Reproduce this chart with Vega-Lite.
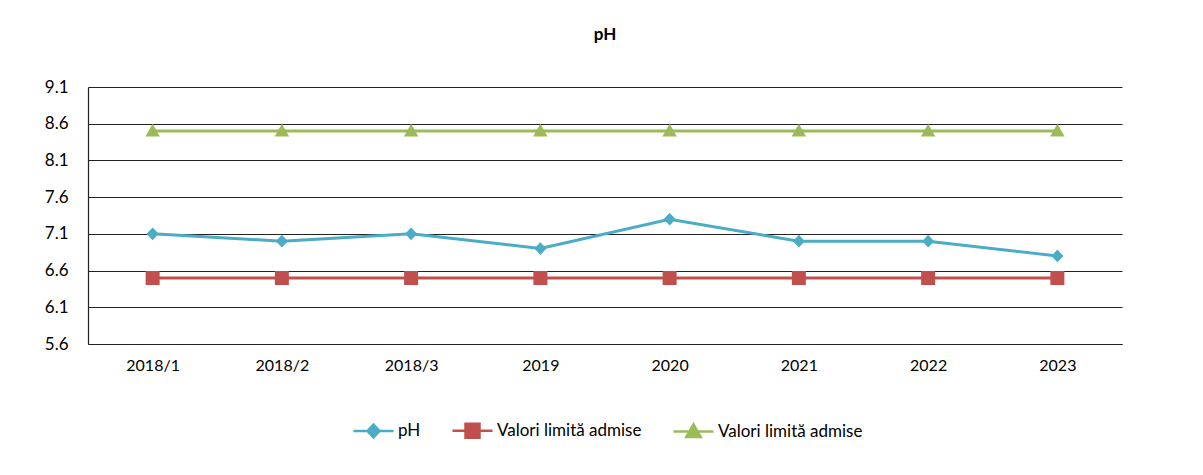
{
  "$schema": "https://vega.github.io/schema/vega-lite/v6.json",
  "autosize": "none",
  "width": 1034,
  "height": 257,
  "padding": {"left": 88, "top": 87, "right": 81, "bottom": 131},
  "background": "white",
  "title": {"text": "pH", "font": "Lato", "fontSize": 17, "fontWeight": "bold", "color": "#000000", "anchor": "middle", "offset": 34},
  "data": {"values": [
    {"x": "2018/1", "s": "pH", "v": 7.1},
    {"x": "2018/2", "s": "pH", "v": 7.0},
    {"x": "2018/3", "s": "pH", "v": 7.1},
    {"x": "2019", "s": "pH", "v": 6.9},
    {"x": "2020", "s": "pH", "v": 7.3},
    {"x": "2021", "s": "pH", "v": 7.0},
    {"x": "2022", "s": "pH", "v": 7.0},
    {"x": "2023", "s": "pH", "v": 6.8},
    {"x": "2018/1", "s": "Valori limită admise#1", "v": 6.5},
    {"x": "2018/2", "s": "Valori limită admise#1", "v": 6.5},
    {"x": "2018/3", "s": "Valori limită admise#1", "v": 6.5},
    {"x": "2019", "s": "Valori limită admise#1", "v": 6.5},
    {"x": "2020", "s": "Valori limită admise#1", "v": 6.5},
    {"x": "2021", "s": "Valori limită admise#1", "v": 6.5},
    {"x": "2022", "s": "Valori limită admise#1", "v": 6.5},
    {"x": "2023", "s": "Valori limită admise#1", "v": 6.5},
    {"x": "2018/1", "s": "Valori limită admise#2", "v": 8.5},
    {"x": "2018/2", "s": "Valori limită admise#2", "v": 8.5},
    {"x": "2018/3", "s": "Valori limită admise#2", "v": 8.5},
    {"x": "2019", "s": "Valori limită admise#2", "v": 8.5},
    {"x": "2020", "s": "Valori limită admise#2", "v": 8.5},
    {"x": "2021", "s": "Valori limită admise#2", "v": 8.5},
    {"x": "2022", "s": "Valori limită admise#2", "v": 8.5},
    {"x": "2023", "s": "Valori limită admise#2", "v": 8.5}
  ]},
  "encoding": {
    "x": {
      "field": "x", "type": "ordinal", "sort": null,
      "scale": {"type": "point", "padding": 0.5},
      "axis": {"title": null, "labelAngle": 0, "ticks": false, "grid": false, "domainColor": "#222222", "domainWidth": 1.2, "labelFont": "Lato", "labelFontSize": 16, "labelColor": "#000000", "labelPadding": 13}
    },
    "y": {
      "field": "v", "type": "quantitative",
      "scale": {"domain": [5.6, 9.1], "nice": false, "zero": false},
      "axis": {"title": null, "values": [5.6, 6.1, 6.6, 7.1, 7.6, 8.1, 8.6, 9.1], "format": ".1f", "ticks": false, "grid": true, "gridColor": "#222222", "gridWidth": 1.2, "domainColor": "#222222", "domainWidth": 1.2, "labelFont": "Lato", "labelFontSize": 17, "labelColor": "#000000", "labelPadding": 20}
    },
    "color": {
      "field": "s", "type": "nominal", "sort": null,
      "scale": {"domain": ["pH", "Valori limită admise#1", "Valori limită admise#2"], "range": ["#4BACC6", "#C0504D", "#9BBB59"]},
      "legend": {"labelExpr": "replace(datum.label, /#\\d$/, '')"}
    }
  },
  "layer": [
    {
      "mark": {"type": "line", "strokeWidth": 3}
    },
    {
      "mark": {"type": "point", "filled": true, "opacity": 1, "size": 1600, "strokeWidth": 0},
      "encoding": {
        "shape": {
          "field": "s", "type": "nominal", "sort": null,
          "scale": {"domain": ["pH", "Valori limită admise#1", "Valori limită admise#2"], "range": [
            "M-1,0H1M0,-0.32L0.3,0L0,0.32L-0.3,0Z",
            "M-1,0H1M-0.35,-0.35H0.35V0.35H-0.35Z",
            "M-1,0H1M0,-0.36L0.36,0.27H-0.36Z"
          ]},
          "legend": {"labelExpr": "replace(datum.label, /#\\d$/, '')"}
        }
      }
    }
  ],
  "config": {
    "view": {"stroke": null},
    "legend": {
      "orient": "none",
      "legendX": 264,
      "legendY": 322,
      "direction": "horizontal",
      "title": null,
      "symbolSize": 1600,
      "labelFont": "Lato",
      "labelFontSize": 17,
      "labelColor": "#000000",
      "labelOffset": 3,
      "columnPadding": 26,
      "symbolStrokeWidth": 2.5,
      "symbolOpacity": 1
    }
  }
}
